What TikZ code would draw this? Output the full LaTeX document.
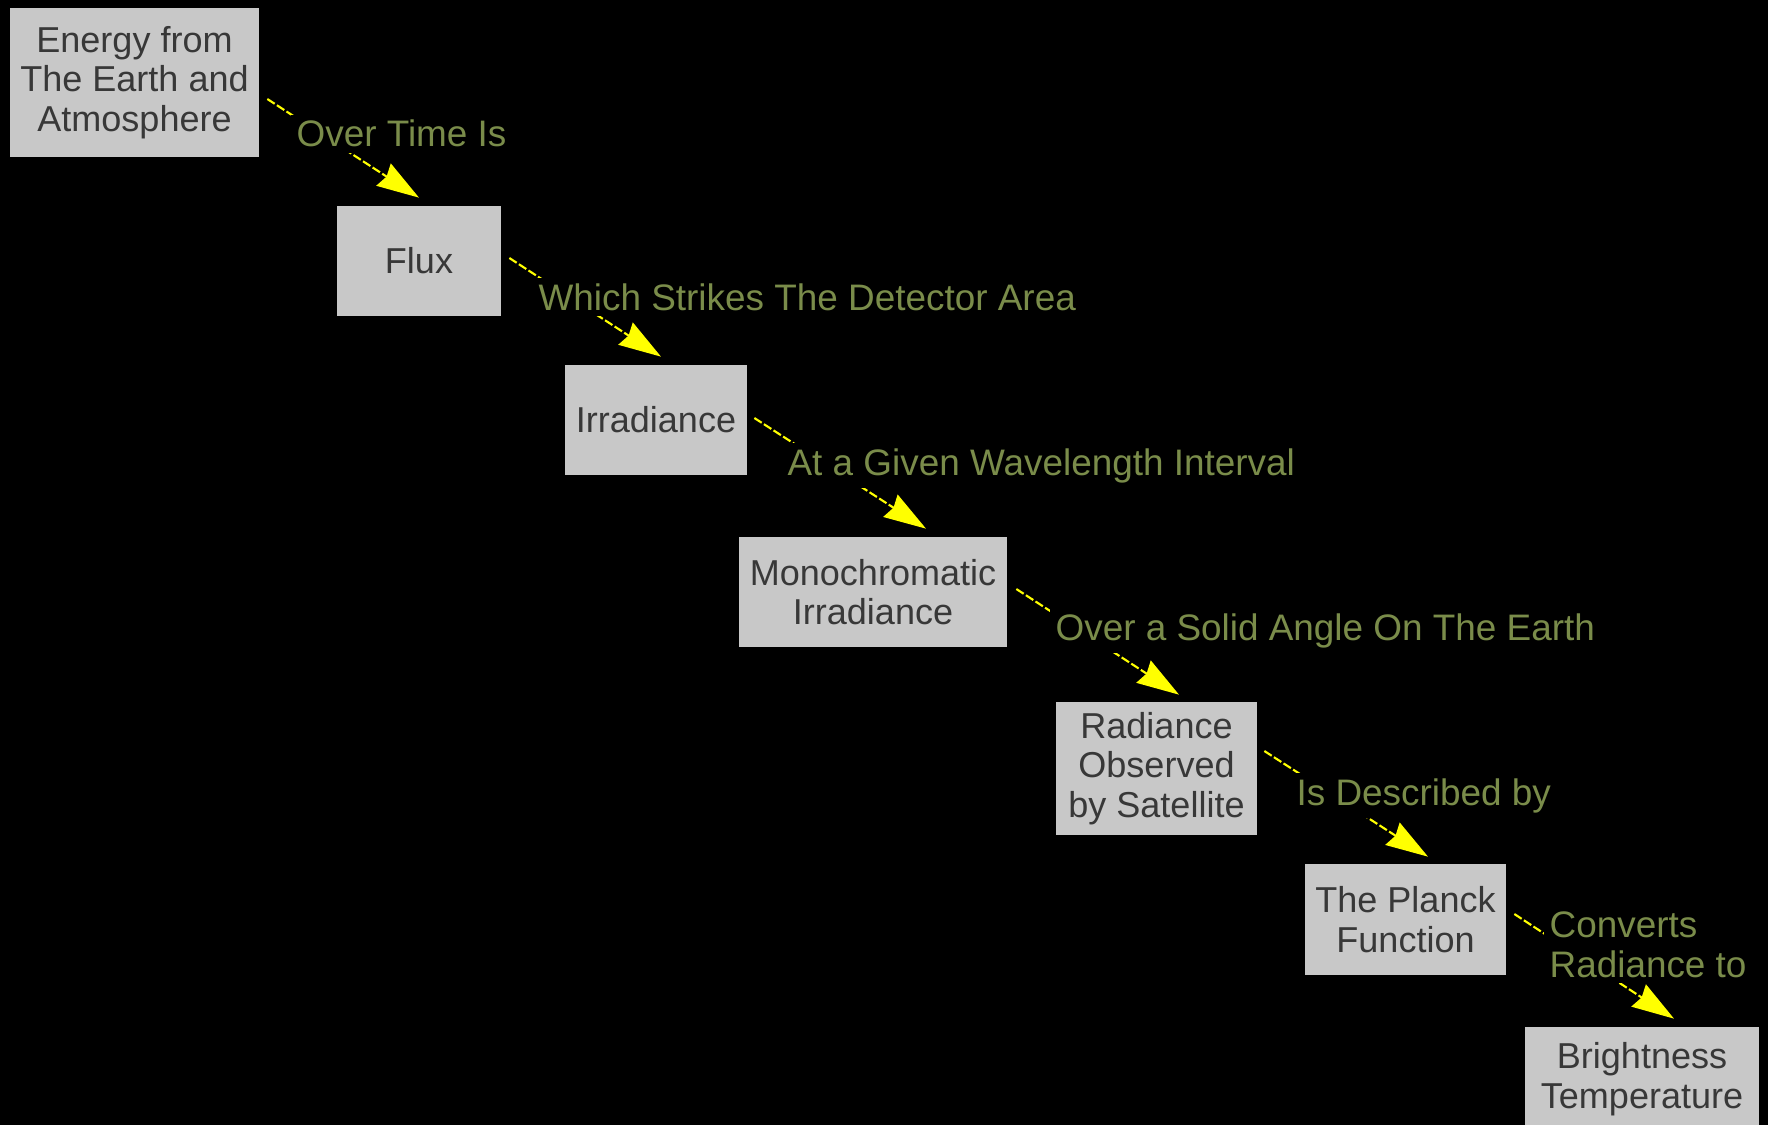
\documentclass[tikz,border=0pt]{standalone}
\usepackage{fontspec}
\setmainfont{Liberation Sans}
\usepackage{tikz}
\usetikzlibrary{positioning,arrows.meta,calc}
\usepackage{xcolor}
\definecolor{conceptfill}{RGB}{200,200,200}
\definecolor{concepttext}{RGB}{56,56,56}
\definecolor{linkgreen}{RGB}{122,140,74}
\definecolor{linkyellow}{RGB}{255,255,0}
\tikzset{
  concept/.style={fill=conceptfill, text=concepttext, align=center, inner sep=4pt,
    font=\fontsize{20.5}{22.5}\selectfont},
  linkword/.style={fill=black, text=linkgreen, align=left, inner sep=3pt,
    font=\fontsize{21}{22.5}\selectfont},
  link/.style={draw=linkyellow, line width=1.2pt, dash pattern=on 5pt off 1.5pt,
    -{Stealth[length=24pt,width=15pt,inset=2pt,fill=linkyellow]}},
}

\begin{document}
\begin{tikzpicture}[x=0.02cm, y=-0.02cm]
\fill[black] (0,0) rectangle (1768,1125);
\useasboundingbox (0,0) rectangle (1768,1125);
\clip (0,0) rectangle (1768,1125);

% concepts
\node[concept, minimum width=4.98cm, minimum height=2.98cm] (energy) at (134.5,82.5) {Energy from\\The Earth and\\Atmosphere};
\node[concept, minimum width=3.28cm, minimum height=2.2cm] (flux) at (419,261) {Flux};
\node[concept, minimum width=3.64cm, minimum height=2.2cm] (irr) at (656,420) {Irradiance};
\node[concept, minimum width=5.36cm, minimum height=2.2cm] (mono) at (873,592) {Monochromatic\\Irradiance};
\node[concept, minimum width=4.02cm, minimum height=2.66cm] (rad) at (1156.5,768.5) {Radiance\\Observed\\by Satellite};
\node[concept, minimum width=4.02cm, minimum height=2.22cm] (planck) at (1405.5,919.5) {The Planck\\Function};
\node[concept, minimum width=4.68cm, minimum height=2.08cm] (bright) at (1642,1079) {Brightness\\Temperature};

% links
\draw[link] ([shift={(8,16.5)}]energy.east) -- ([shift={(0,-8)}]flux.north);
\draw[link] ([shift={(8,-3)}]flux.east) -- ([shift={(5,-8)}]irr.north);
\draw[link] ([shift={(7,-2)}]irr.east) -- ([shift={(53,-8)}]mono.north);
\draw[link] ([shift={(9,-3)}]mono.east) -- ([shift={(22.5,-7)}]rad.north);
\draw[link] ([shift={(7,-17.5)}]rad.east) -- ([shift={(22.5,-7)}]planck.north);
\draw[link] ([shift={(8,-5.5)}]planck.east) -- ([shift={(32,-8)}]bright.north);

% linking words
\node[linkword, anchor=base west] (overtime) at (291,147) {Over Time Is};
\node[linkword, anchor=base west] (strikes) at (533,310) {Which Strikes The Detector Area};
\node[linkword, anchor=base west] (given) at (782,475) {At a Given Wavelength Interval};
\node[linkword, anchor=base west] (solid) at (1050,640) {Over a Solid Angle On The Earth};
\node[linkword, anchor=base west] (described) at (1291,805) {Is Described by};
\node[linkword, anchor=west] (converts) at (1544,945) {Converts\\Radiance to};
\end{tikzpicture}
\end{document}
